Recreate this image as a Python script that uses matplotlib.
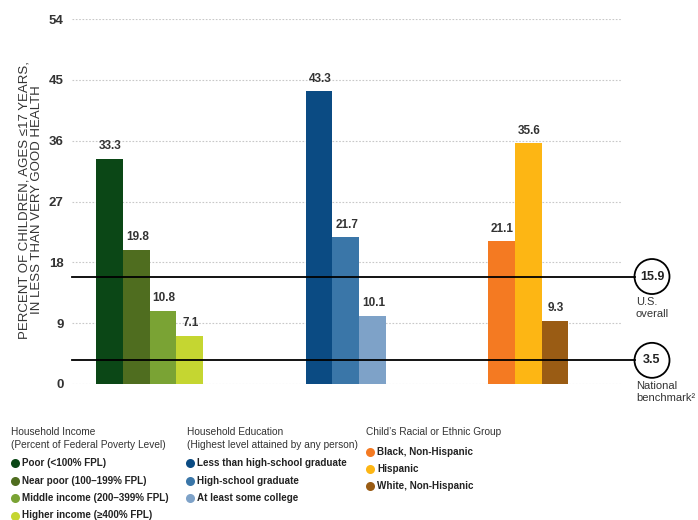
import matplotlib
matplotlib.use("Agg")
import matplotlib.pyplot as plt
from matplotlib.patches import Ellipse

# ─────────────────────────────────────────────
# DATA
# ─────────────────────────────────────────────
income_labels = ["Poor (<100% FPL)", "Near poor (100–199% FPL)",
                 "Middle income (200–399% FPL)", "Higher income (≥400% FPL)"]
income_values = [33.3, 19.8, 10.8, 7.1]
income_colors = ["#0b4716", "#4f6d1f", "#7aa334", "#c5d631"]

edu_labels = ["Less than high-school graduate", "High-school graduate",
              "At least some college"]
edu_values = [43.3, 21.7, 10.1]
edu_colors = ["#0b4b83", "#3a76a8", "#7ea2c8"]

race_labels = ["Black, Non-Hispanic", "Hispanic", "White, Non-Hispanic"]
race_values = [21.1, 35.6, 9.3]
race_colors = ["#f47a22", "#fdb614", "#9a5c14"]

ref_values = [15.9, 3.5]
ref_labels = ["U.S.\noverall", "National\nbenchmark²"]

y_ticks = [0, 9, 18, 27, 36, 45, 54]

# ─────────────────────────────────────────────
# LAYOUT (pixels)
# ─────────────────────────────────────────────
W, H = 698, 520
plt.rcParams["font.family"] = ["Liberation Sans", "DejaVu Sans"]
TS, IS = 7.3, 7.1

fig = plt.figure(figsize=(W / 100, H / 100), dpi=100)
AX_L, AX_R, Y0, Y54 = 72, 698, 384, 19
ax = fig.add_axes([AX_L / W, (H - Y0) / H, (AX_R - AX_L) / W, (Y0 - Y54) / H])
ax.set_xlim(AX_L, AX_R)
ax.set_ylim(0, 54)
for s in ax.spines.values():
    s.set_visible(False)
ax.set_xticks([])
ax.set_yticks(y_ticks)
ax.set_yticklabels([str(t) for t in y_ticks], fontsize=9.5, fontweight="bold",
                   color="#333333")
ax.tick_params(axis="y", length=0, pad=6)
ax.set_ylabel("PERCENT OF CHILDREN, AGES ≤17 YEARS,\nIN LESS THAN VERY GOOD HEALTH",
              fontsize=9.5, color="#333333", linespacing=1.05)
ax.yaxis.set_label_coords(-(AX_L - 43) / (AX_R - AX_L), 0.505)

# dotted gridlines
for t in y_ticks:
    ax.plot([AX_L, 622], [t, t], color="#c8c8c8", lw=0.8, ls=(0, (1.5, 1.5)),
            zorder=0)

BAR_W = 26.8
groups = [(96, income_values, income_colors),
          (305.5, edu_values, edu_colors),
          (488, race_values, race_colors)]
for x0, vals, cols in groups:
    for i, (v, c) in enumerate(zip(vals, cols)):
        xl = x0 + i * BAR_W
        ax.bar(xl, v, width=BAR_W, align="edge", color=c, edgecolor="none",
               zorder=2)
        ax.text(xl + BAR_W / 2 + 1, v + 1.0, f"{v}", ha="center", va="bottom",
                fontsize=8.5, fontweight="bold", color="#333333")

# reference lines with circles
CX, R = 652, 17.5
px_per_unit = (Y0 - Y54) / 54
for v, lab in zip(ref_values, ref_labels):
    ax.plot([AX_L, CX - R], [v, v], color="black", lw=1.3, zorder=3,
            clip_on=False)
    ell = Ellipse((CX, v), 2 * R, 2 * R / px_per_unit, fill=False, lw=1.3,
                  edgecolor="black", clip_on=False, zorder=3)
    ax.add_patch(ell)
    ax.text(CX, v, f"{v}", ha="center", va="center", fontsize=9,
            fontweight="bold", color="#222222")
    ax.text(636, v - R / px_per_unit - 0.4, lab, ha="left", va="top",
            fontsize=8, color="#333333", linespacing=1.3, clip_on=False)


# ─────────────────────────────────────────────
# LEGEND (figure text in pixel coords)
# ─────────────────────────────────────────────
def ftext(x, y, s, **kw):
    fig.text(x / W, 1 - y / H, s, va="center", **kw)


def fdot(x, y, c):
    fig.add_artist(plt.Line2D([x / W], [1 - y / H], marker="o", ms=6.5,
                              color=c, mec="none", transform=fig.transFigure))


ftext(11, 432, "Household Income", fontsize=TS, color="#333333")
ftext(11, 445, "(Percent of Federal Poverty Level)", fontsize=TS, color="#333333")
for i, (lab, c) in enumerate(zip(income_labels, income_colors)):
    y = 463 + i * 17.5
    fdot(15, y, c)
    ftext(22, y, lab, fontsize=IS, fontweight="bold", color="#222222")

ftext(187, 432, "Household Education", fontsize=TS, color="#333333")
ftext(187, 445, "(Highest level attained by any person)", fontsize=TS,
      color="#333333")
for i, (lab, c) in enumerate(zip(edu_labels, edu_colors)):
    y = 463 + i * 17.5
    fdot(190, y, c)
    ftext(197, y, lab, fontsize=IS, fontweight="bold", color="#222222")

ftext(366, 432, "Child’s Racial or Ethnic Group", fontsize=TS, color="#333333")
for i, (lab, c) in enumerate(zip(race_labels, race_colors)):
    y = 452 + i * 17
    fdot(370, y, c)
    ftext(377, y, lab, fontsize=IS, fontweight="bold", color="#222222")

fig.savefig("out.png", dpi=100)
